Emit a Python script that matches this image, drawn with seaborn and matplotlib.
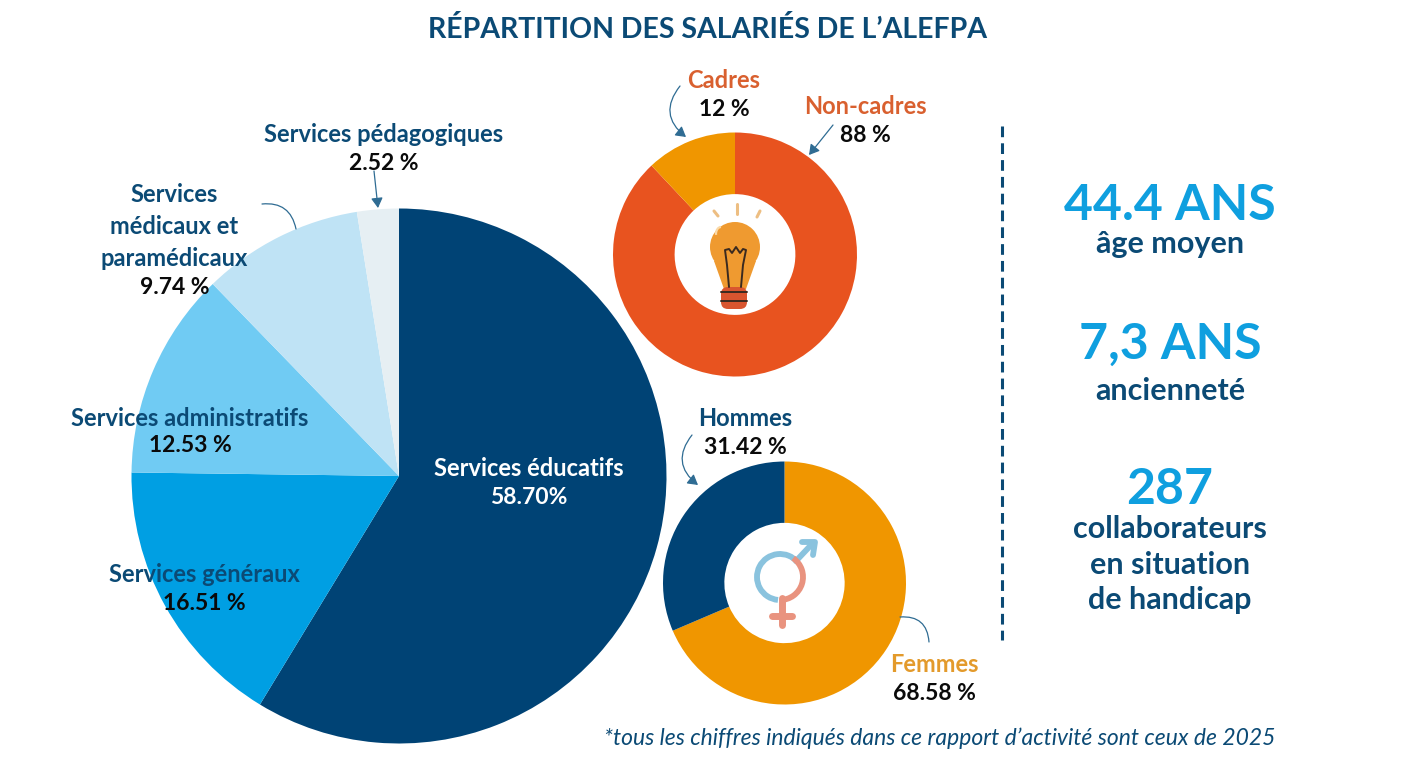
import matplotlib
matplotlib.use("Agg")
import matplotlib.pyplot as plt
from matplotlib.patches import Circle, FancyBboxPatch, Polygon, Arc, FancyArrowPatch
import seaborn as sns

sns.set_theme(style="white")
plt.rcParams['font.family'] = ['Lato', 'DejaVu Sans']

W, H = 1414, 775

# Data
service_labels = ["Services éducatifs", "Services généraux", "Services administratifs",
                  "Services médicaux et paramédicaux", "Services pédagogiques"]
service_values = [58.70, 16.51, 12.53, 9.74, 2.52]
status_labels = ["Non-cadres", "Cadres"]
status_values = [88, 12]
gender_labels = ["Femmes", "Hommes"]
gender_values = [68.58, 31.42]

service_colors = sns.color_palette(["#004375", "#009FE3", "#70CBF3", "#BFE3F5", "#E6EFF3"])
status_colors = sns.color_palette(["#E8531F", "#F09600"])
gender_colors = sns.color_palette(["#F09600", "#004375"])

NAVY = "#0B4A75"
BLUE = "#0F9FDF"
BLACK = "#0A0A0A"
RUST = "#D9602F"
AMBER = "#E39A2B"

fig = plt.figure(figsize=(W / 100, H / 100), dpi=100, facecolor="white")


def pie_axes(cx, cy, r):
    ax = fig.add_axes([(cx - r) / W, 1 - (cy + r) / H, 2 * r / W, 2 * r / H])
    return ax


def finish(ax):
    ax.set_xlim(-1, 1)
    ax.set_ylim(-1, 1)
    ax.axis("off")


ax_main = pie_axes(399, 476, 267.5)
ax_main.pie(service_values, colors=service_colors, startangle=90, counterclock=False,
            radius=1, wedgeprops=dict(linewidth=0))
finish(ax_main)

ax_status = pie_axes(735, 254.5, 122)
ax_status.pie(status_values, colors=status_colors, startangle=90, counterclock=False,
              radius=1, wedgeprops=dict(width=0.505, linewidth=0))
finish(ax_status)

ax_gender = pie_axes(784.5, 583, 121.5)
ax_gender.pie(gender_values, colors=gender_colors, startangle=90, counterclock=False,
              radius=1, wedgeprops=dict(width=0.505, linewidth=0))
finish(ax_gender)

# Overlay in pixel coordinates
ov = fig.add_axes([0, 0, 1, 1], facecolor="none")
ov.set_xlim(0, W)
ov.set_ylim(H, 0)
ov.axis("off")


def T(x, y, s, color=NAVY, size=17, weight="bold", **kw):
    ov.text(x, y, s, color=color, fontsize=size, fontweight=weight,
            ha=kw.pop("ha", "center"), va="center", **kw)


T(707, 29, "RÉPARTITION DES SALARIÉS DE L’ALEFPA", size=20.5)

T(384, 134, service_labels[4])
T(384, 163, f"{service_values[4]:.2f} %", color=BLACK, size=16.5)
T(174, 194, "Services")
T(174, 226, "médicaux et")
T(174, 258, "paramédicaux")
T(175, 287, f"{service_values[3]:.2f} %", color=BLACK, size=16.5)
T(190, 418, service_labels[2])
T(190, 446, f"{service_values[2]:.2f} %", color=BLACK, size=16.5)
T(204, 575, service_labels[1])
T(204, 603, f"{service_values[1]:.2f} %", color=BLACK, size=16.5)
T(529, 468, service_labels[0], color="white")
T(529, 497, f"{service_values[0]:.2f}%", color="white", size=16.5)

T(724, 81, status_labels[1], color=RUST)
T(724, 110, f"{status_values[1]} %", color=BLACK, size=16.5)
T(865, 107, status_labels[0], color=RUST)
T(865, 135, f"{status_values[0]} %", color=BLACK, size=16.5)

T(745, 418, gender_labels[1])
T(745, 447, f"{gender_values[1]:.2f} %", color=BLACK, size=16.5)
T(934, 664, gender_labels[0], color=AMBER)
T(934, 693, f"{gender_values[0]:.2f} %", color=BLACK, size=16.5)

# Right panel
T(1170, 205, "44.4 ANS", color=BLUE, size=36)
T(1170, 244, "âge moyen", size=22)
T(1170, 344, "7,3 ANS", color=BLUE, size=36)
T(1170, 391, "ancienneté", size=22)
T(1170, 489, "287", color=BLUE, size=36)
T(1170, 529, "collaborateurs", size=22)
T(1170, 565, "en situation", size=22)
T(1170, 600, "de handicap", size=22)
T(940, 738, "*tous les chiffres indiqués dans ce rapport d’activité sont ceux de 2025",
  size=16.5, weight="normal", style="italic")

ov.plot([1002, 1002], [126, 640], color="#0B4A75", lw=2.2, ls=(0, (3.5, 2)))


# Curved arrows
def curve(p0, p1, rad, head=True):
    style = "-|>,head_length=6,head_width=3.5" if head else "-"
    ov.add_patch(FancyArrowPatch(p0, p1, connectionstyle=f"arc3,rad={rad}", arrowstyle=style,
                                 color="#2F6C93", lw=0.9, shrinkA=0, shrinkB=0, zorder=5))


curve((680, 86), (686, 137), 0.5)
curve((833, 125), (809, 155), 0)
curve((374, 171), (378, 208), 0)
curve((262, 204), (296, 229), -0.45, head=False)
curve((692, 435), (698, 485), 0.5)
curve((900, 617), (929, 642), -0.5, head=False)

# Light bulb icon
BULB = "#EF9A30"
for xs, ys in [([714, 718], [211, 216]), ([736.5, 736.5], [204, 214]), ([760, 757], [211, 217])]:
    ov.plot(xs, ys, color="#EDBE82", lw=2.2, solid_capstyle="round", zorder=6)
ov.add_patch(Circle((735, 247), 25, fc=BULB, ec="none", zorder=6))
ov.add_patch(Polygon([(714, 261), (756, 261), (746, 289), (724, 289)], fc=BULB, ec="none", zorder=6))
ov.add_patch(FancyBboxPatch((721, 287), 26, 22, boxstyle="round,pad=0,rounding_size=7",
                            fc="#D9552F", ec="none", zorder=6))
for y in [292, 301]:
    ov.plot([721, 747], [y, y], color="#3A2A20", lw=1.4, zorder=7)
ink = dict(color="#3A2A20", lw=1.4, zorder=7)
ov.plot([729, 727, 725, 729, 732, 736, 740, 743, 746, 743, 741],
        [287, 265, 250, 249, 253, 247, 253, 249, 250, 265, 287], **ink)
ov.add_patch(Arc((721, 234), 10, 14, theta1=170, theta2=270, color="#FBD9A6", lw=1.6, zorder=7))

# Gender icon
M = "#8AC3DE"
F = "#E9937F"
ov.add_patch(Arc((780, 577), 46, 46, theta1=95, theta2=320, color=M, lw=4.2, zorder=6))
ov.plot([796, 812], [561, 544], color=M, lw=4.2, zorder=6)
ov.plot([802, 815, 813], [542, 542, 555], color=M, lw=4.2, zorder=6)
ov.add_patch(Arc((780, 577), 46, 46, theta1=-55, theta2=90, color=F, lw=4.2, zorder=6))
ov.plot([782, 782], [598, 625], color=F, lw=5, zorder=6)
ov.plot([772, 792], [616, 616], color=F, lw=5, zorder=6)

fig.savefig("out.png", dpi=100)
